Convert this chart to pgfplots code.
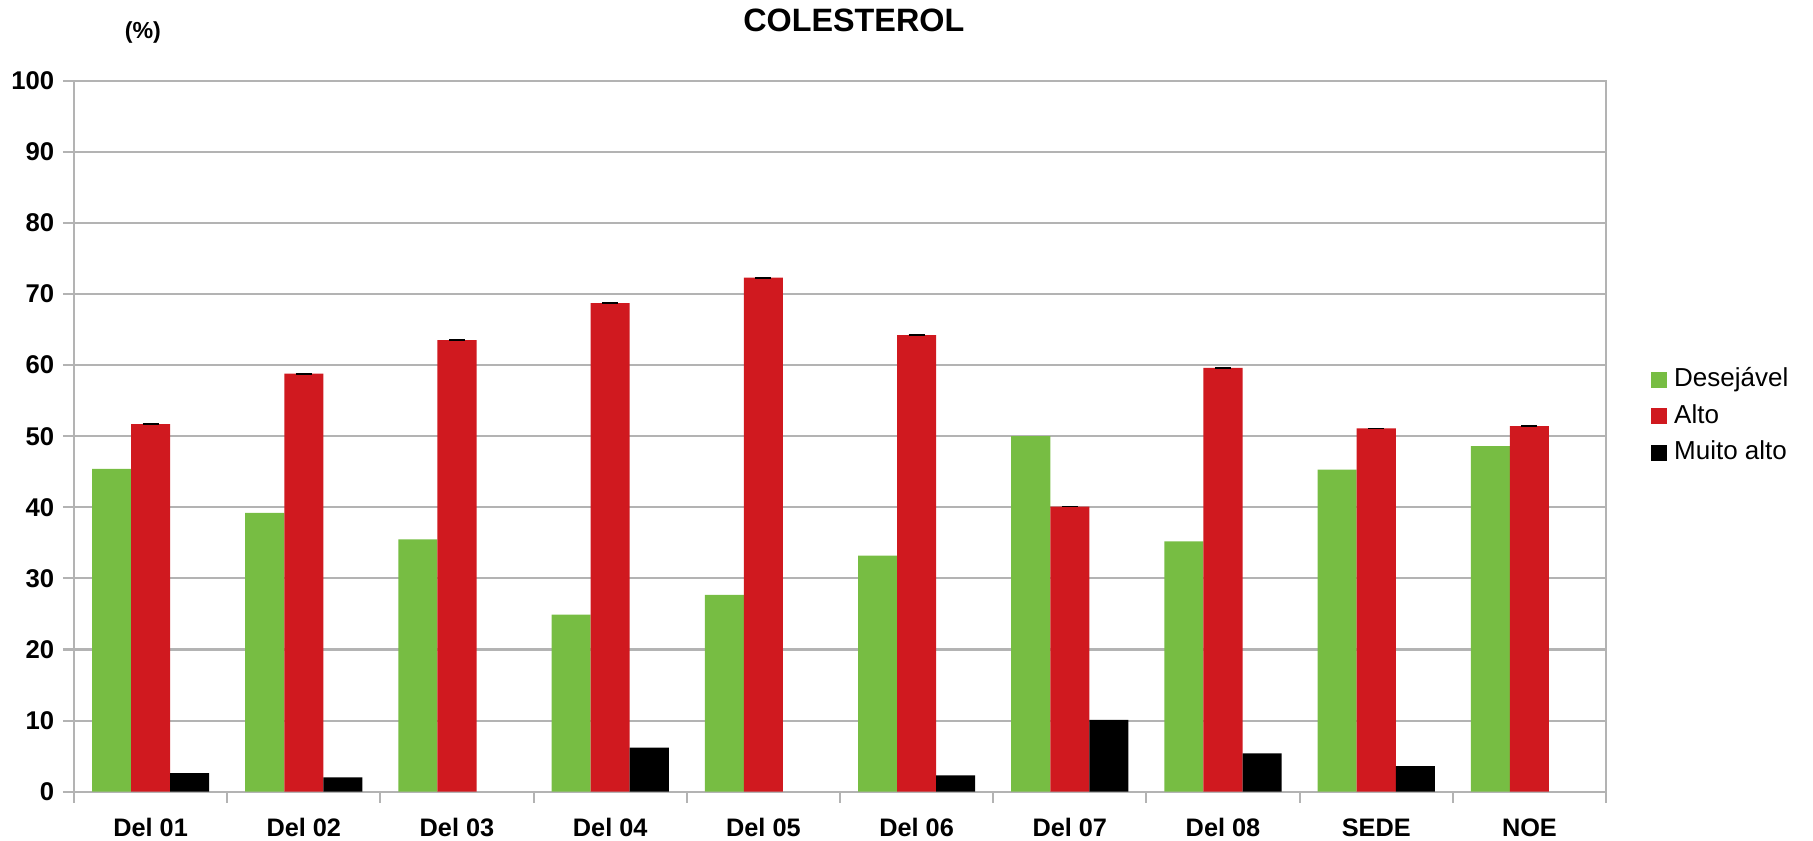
\documentclass[border=0pt]{standalone}
\usepackage{fontspec}
\setmainfont{Liberation Sans}
\usepackage{pgfplots}
\pgfplotsset{compat=1.18}
\usepackage{pgfplotstable}

\definecolor{verde}{HTML}{77BD43}
\definecolor{vermelho}{HTML}{D0191F}
\definecolor{grade}{HTML}{B3B3B3}

% x: 0 = Del 01 ... 9 = NOE
\pgfplotstableread{
x  des   alto  muito
0  45.4  51.7  2.6
1  39.2  58.8  2.0
2  35.5  63.5  nan
3  24.9  68.7  6.2
4  27.7  72.3  nan
5  33.2  64.2  2.3
6  50.0  40.1  10.1
7  35.2  59.6  5.4
8  45.3  51.1  3.6
9  48.6  51.4  nan
}\dados

\begin{document}
\begin{tikzpicture}
\path[use as bounding box] (-0.74cm,-0.483cm) rectangle (17.39cm,7.917cm);
\begin{axis}[
    scale only axis,
    width=15.32cm, height=7.11cm,
    clip=false,
    ybar, bar width=0.255,
    xmin=-0.5, xmax=9.5,
    ymin=0, ymax=100,
    ytick={0,10,...,100},
    xtick={0,...,9},
    xticklabels={Del 01,Del 02,Del 03,Del 04,Del 05,Del 06,Del 07,Del 08,SEDE,NOE},
    minor xtick={-0.5,0.5,...,9.5},
    major x tick style={draw=none},
    tick align=outside,
    xtick pos=bottom, ytick pos=left,
    major tick length=0.11cm, minor tick length=0.11cm,
    tick style={grade, line width=0.6pt},
    axis line style={grade, line width=0.6pt},
    ymajorgrids=true,
    grid style={grade, line width=0.6pt},
    unbounded coords=discard,
    /pgf/number format/assume math mode=true,
    y tick label style={font=\fontsize{7.3}{8}\selectfont\bfseries, anchor=east, xshift=0.035cm},
    x tick label style={font=\fontsize{7.2}{8}\selectfont\bfseries, anchor=base, yshift=-0.34cm},
    legend style={draw=none, fill=none, at={(axis description cs:1.029,0.528)}, anchor=west,
        font=\fontsize{7.4}{8}\selectfont, row sep=-0.015cm, inner sep=0pt},
    legend cell align=left,
    legend image code/.code={\fill[#1] (0cm,-0.08cm) rectangle (0.16cm,0.08cm);},
]
\addplot[fill=verde, draw=none, bar shift=-0.255] table[x=x, y=des] {\dados};
\addplot[fill=vermelho, draw=none, bar shift=0,
    error bars/.cd, y dir=plus, y fixed=0, error mark=|,
    error mark options={black, mark size=0.08cm, line width=0.5pt}]
    table[x=x, y=alto] {\dados};
\addplot[fill=black, draw=none, bar shift=0.255] table[x=x, y=muito] {\dados};
\legend{Desejável, Alto, Muito alto}
\node[font=\fontsize{6.6}{7}\selectfont\bfseries, anchor=base] at (axis description cs:0.045,1.060) {(\%)};
\node[font=\fontsize{9.2}{10}\selectfont\bfseries, anchor=base] at (axis description cs:0.509,1.0685) {COLESTEROL};
\end{axis}
\end{tikzpicture}
\end{document}
